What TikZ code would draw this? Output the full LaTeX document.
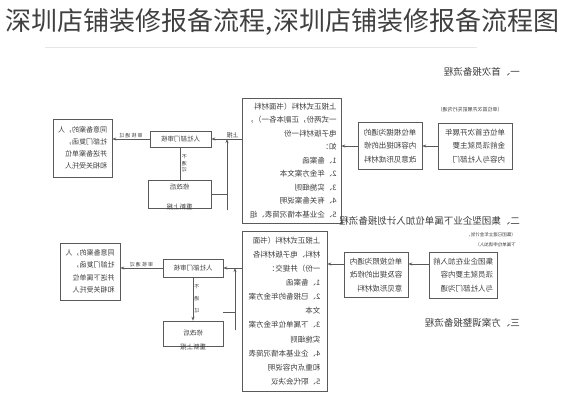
\documentclass[tikz,border=0pt]{standalone}
\usepackage{fontspec}
\setmainfont{Noto Sans CJK SC}
\usetikzlibrary{arrows.meta}
\definecolor{line_gray}{HTML}{5a5a5a}
\definecolor{text_gray}{HTML}{3c3c3c}
\definecolor{rule_gray}{HTML}{e6e6e6}

\tikzset{
  flowbox/.style={draw=line_gray, line width=0.6pt, align=left, text=text_gray,
    font=\fontsize{7.5}{13.5}\selectfont, inner sep=2pt},
  checkbox/.style={flowbox, align=center, font=\fontsize{6.5}{8}\selectfont},
  flowarrow/.style={-{Stealth[length=4pt,width=3pt]}, draw=line_gray, line width=0.6pt},
  flowline/.style={draw=line_gray, line width=0.6pt},
  tinytext/.style={text=text_gray, font=\fontsize{5}{6.5}\selectfont, inner sep=1pt},
  heading/.style={anchor=west, text=text_gray, font=\fontsize{9.5}{11}\selectfont, inner sep=0pt}
}

\begin{document}
\begin{tikzpicture}[x=1pt, y=-1pt]
  \useasboundingbox (0,0) rectangle (565,400);
  \node[text=black!75, font=\fontsize{26}{28}\selectfont] (title) at (282.5,22) {深圳店铺装修报备流程,深圳店铺装修报备流程图};
  \draw[rule_gray] (45,47) -- (477,47);

  % the chart is printed mirrored
  \begin{scope}[xshift=565pt, xscale=-1, transform shape]
    % First flow
    \node[heading] (head1) at (45,72) {一、首次报备流程};
    \node[tinytext] (note1) at (95,110) {（单位首次开展前先行沟通）};
    \node[flowbox, minimum width=74pt, minimum height=46pt] (talk1) at (90,146) {单位在首次开展年\\金前派员就主要\\内容与人社部门};
    \node[flowbox, minimum width=64pt, minimum height=47pt] (revise1) at (175,146) {单位根据沟通的\\内容和提出的修\\改意见形成材料};
    \node[flowbox, minimum width=99pt, minimum height=125pt] (submit1) at (273.5,160.5) {上报正式材料（书面材料\\一式两份，正副本各一），\\电子版材料一份\\如：\\1、备案函\\2、年金方案文本\\3、实施细则\\4、有关备案说明\\5、企业基本情况简表、组};
    \node[checkbox, minimum width=61pt, minimum height=16pt] (check1) at (384.5,139) {人社部门审核};
    \node[flowbox, font=\fontsize{7}{12}\selectfont, minimum width=59pt, minimum height=58pt] (agree1) at (482.5,148) {同意备案的，人\\社部门复函，\\并送备案单位\\和相关受托人};
    \node[checkbox, minimum width=63pt, minimum height=28pt,
      label={[tinytext, font=\fontsize{6.5}{8}\selectfont, anchor=center, yshift=1pt]south:重新上报}] (redo1) at (385.5,194) {修改后\\[6pt]};

    \draw[flowarrow] (talk1) -- (revise1);
    \draw[flowarrow] (revise1.east) -- (revise1.east -| submit1.west);
    \draw[flowarrow] (submit1.east |- check1) -- (check1.west) node[tinytext, font=\fontsize{6}{7}\selectfont, pos=0.3, above] {上报};
    \draw[flowarrow] (check1.east) -- (check1.east -| agree1.west) node[tinytext, midway, above] {审\ 核\ 通\ 过};
    \draw[flowline] (check1.south) -- (check1.south |- redo1.north) node[tinytext, midway, left, align=center] {不\\通\\过};
    \coordinate (back1) at (338,210);
    \draw[flowarrow] (back1) -- (back1 |- check1);
    \draw[flowline] (redo1.west) -- (redo1.west -| back1);

    % Second flow
    \node[heading] (head2) at (45,221) {二、集团型企业下属单位加入计划报备流程};
    \node[tinytext, anchor=west, align=left, font=\fontsize{4.5}{10}\selectfont] (note2) at (48,240) {（集团已建立年金计划，\\下属单位申请加入）};
    \node[flowbox, minimum width=68pt, minimum height=46pt] (talk2) at (102,275) {集团企业在加入前\\派员就主要内容\\与人社部门沟通};
    \node[flowbox, minimum width=64pt, minimum height=45pt] (revise2) at (189,275) {单位按照沟通内\\容及提出的修改\\意见形成材料};
    \node[flowbox, minimum width=85pt, minimum height=160pt, font=\fontsize{7.5}{14.1}\selectfont] (submit2) at (280.5,311) {上报正式材料（书面\\材料、电子版材料各\\一份）并提交：\\1、备案函\\2、已报备的年金方案\\文本\\3、下属单位年金方案\\实施细则\\4、企业基本情况简表\\和重点内容说明\\5、职代会决议};
    \node[checkbox, minimum width=60pt, minimum height=18pt] (check2) at (372,268) {人社部门审核};
    \node[flowbox, font=\fontsize{7}{12.5}\selectfont, minimum width=60pt, minimum height=57pt] (agree2) at (475,271.5) {同意备案的，人\\社部门复函，\\并送下属单位\\和相关受托人};
    \node[checkbox, minimum width=60pt, minimum height=25pt,
      label={[tinytext, font=\fontsize{6.5}{8}\selectfont, anchor=center, yshift=-1pt]south:重新上报}] (redo2) at (372,333.5) {修改后};

    \draw[flowarrow] ([yshift=11pt]talk2.east) -- ([yshift=11pt]talk2.east -| revise2.west);
    \draw[flowarrow] ([yshift=11pt]revise2.east) -- ([yshift=11pt]revise2.east -| submit2.west);
    \draw[flowarrow] (submit2.east |- check2) -- (check2.west);
    \draw[flowarrow] (check2.east) -- (check2.east -| agree2.west) node[tinytext, midway, above] {审\ 核\ 通\ 过};
    \draw[flowarrow] (check2.south) -- (redo2.north) node[tinytext, midway, left, align=center, font=\fontsize{5}{12}\selectfont] {不\\通\\过};
    \coordinate (back2) at (330,330);
    \draw[flowarrow] (back2) -- (back2 |- check2);
    \draw[flowline] ([yshift=8pt]redo2.north west) -- ([yshift=8pt]redo2.north west -| back2);

    % Third flow
    \node[heading] (head3) at (45,323) {三、方案调整报备流程};
  \end{scope}
\end{tikzpicture}
\end{document}
